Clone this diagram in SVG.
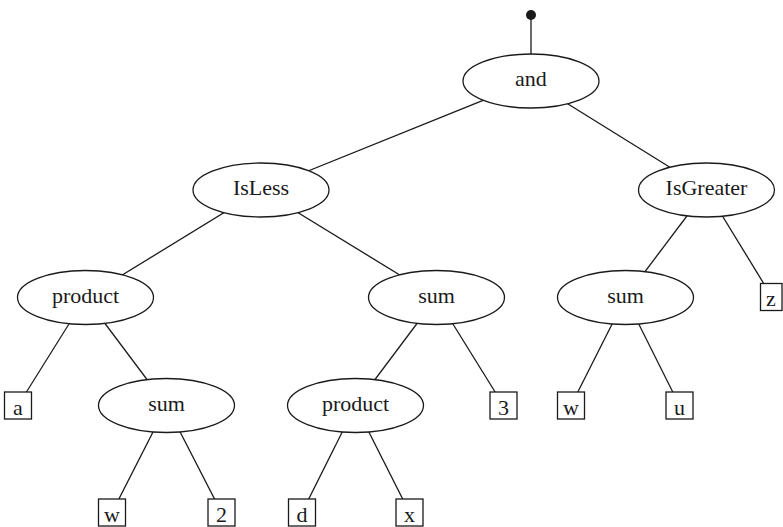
<svg xmlns="http://www.w3.org/2000/svg" width="783" height="527" viewBox="0 0 783 527">
  <style>
    .edge { stroke: #1a1a1a; stroke-width: 1.3; fill: none; }
    .op ellipse { fill: #ffffff; stroke: #1a1a1a; stroke-width: 1.3; }
    .leaf rect { fill: #ffffff; stroke: #1a1a1a; stroke-width: 1.3; }
    text { font-family: "Liberation Serif", "Times New Roman", serif; font-size: 22px; fill: #1a1a1a; text-anchor: middle; }
  </style>
  <rect width="783" height="527" fill="#ffffff"/>

  <!-- connectors, center to center; nodes are painted over them -->
  <g id="edges" class="edge">
    <line x1="531" y1="15" x2="531" y2="54"/>
    <line x1="531" y1="81" x2="261" y2="190"/>
    <line x1="531" y1="81" x2="706.5" y2="190"/>
    <line x1="261" y1="190" x2="85.5" y2="297.5"/>
    <line x1="261" y1="190" x2="436.5" y2="297.5"/>
    <line x1="706.5" y1="190" x2="625.5" y2="297.5"/>
    <line x1="706.5" y1="190" x2="772" y2="297"/>
    <line x1="85.5" y1="297.5" x2="18" y2="405.5"/>
    <line x1="85.5" y1="297.5" x2="166.5" y2="405.5"/>
    <line x1="436.5" y1="297.5" x2="355.5" y2="405.5"/>
    <line x1="436.5" y1="297.5" x2="503.5" y2="405.5"/>
    <line x1="625.5" y1="297.5" x2="571" y2="405.5"/>
    <line x1="625.5" y1="297.5" x2="679.5" y2="405.5"/>
    <line x1="166.5" y1="405.5" x2="112" y2="512.5"/>
    <line x1="166.5" y1="405.5" x2="221.5" y2="512.5"/>
    <line x1="355.5" y1="405.5" x2="302" y2="512.5"/>
    <line x1="355.5" y1="405.5" x2="409.5" y2="512.5"/>
  </g>

  <!-- root marker -->
  <circle id="root" cx="531" cy="15" r="5" fill="#1a1a1a"/>

  <!-- operator nodes -->
  <g id="n-and" class="op"><ellipse cx="531" cy="81" rx="68" ry="27"/><text x="531" y="86">and</text></g>
  <g id="n-isless" class="op"><ellipse cx="261" cy="190" rx="68" ry="27"/><text x="261" y="195">IsLess</text></g>
  <g id="n-isgreater" class="op"><ellipse cx="706.5" cy="190" rx="68" ry="27"/><text x="706.5" y="195">IsGreater</text></g>
  <g id="n-product1" class="op"><ellipse cx="85.5" cy="297.5" rx="68" ry="27"/><text x="85.5" y="302.5">product</text></g>
  <g id="n-sum1" class="op"><ellipse cx="436.5" cy="297.5" rx="68" ry="27"/><text x="436.5" y="302.5">sum</text></g>
  <g id="n-sum2" class="op"><ellipse cx="625.5" cy="297.5" rx="68" ry="27"/><text x="625.5" y="302.5">sum</text></g>
  <g id="n-sum3" class="op"><ellipse cx="166.5" cy="405.5" rx="68" ry="27"/><text x="166.5" y="410.5">sum</text></g>
  <g id="n-product2" class="op"><ellipse cx="355.5" cy="405.5" rx="68" ry="27"/><text x="355.5" y="410.5">product</text></g>

  <!-- leaf nodes -->
  <g id="n-z" class="leaf"><rect x="760.5" y="283.5" width="21.5" height="27"/><text x="771" y="306">z</text></g>
  <g id="n-a" class="leaf"><rect x="4.5" y="392" width="27" height="27"/><text x="18" y="415">a</text></g>
  <g id="n-3" class="leaf"><rect x="490" y="392" width="27" height="27"/><text x="503.5" y="415">3</text></g>
  <g id="n-w1" class="leaf"><rect x="557.5" y="392" width="27" height="27"/><text x="571" y="415">w</text></g>
  <g id="n-u" class="leaf"><rect x="666" y="392" width="27" height="27"/><text x="679.5" y="415">u</text></g>
  <g id="n-w2" class="leaf"><rect x="98.5" y="499" width="27" height="27"/><text x="112" y="522">w</text></g>
  <g id="n-2" class="leaf"><rect x="208" y="499" width="27" height="27"/><text x="221.5" y="522">2</text></g>
  <g id="n-d" class="leaf"><rect x="288.5" y="499" width="27" height="27"/><text x="302" y="522">d</text></g>
  <g id="n-x" class="leaf"><rect x="396" y="499" width="27" height="27"/><text x="409.5" y="522">x</text></g>
</svg>
